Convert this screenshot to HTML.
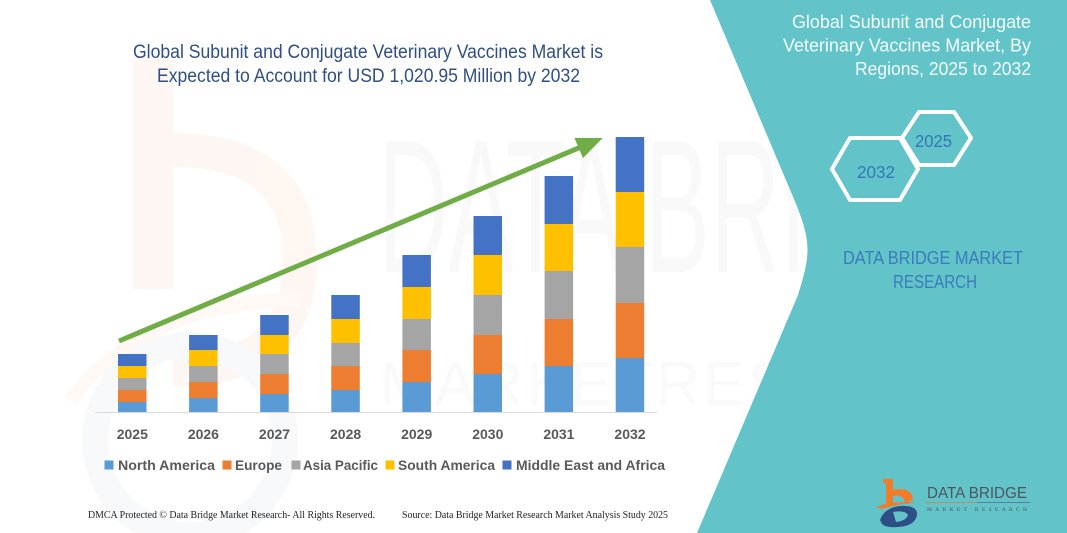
<!DOCTYPE html>
<html>
<head>
<meta charset="utf-8">
<style>
html,body{margin:0;padding:0;background:#fff;}
svg{display:block;}
text{font-family:"Liberation Sans",sans-serif;}
</style>
</head>
<body>
<svg width="1067" height="533" viewBox="0 0 1067 533" xmlns="http://www.w3.org/2000/svg">
<rect x="0" y="0" width="1067" height="533" fill="#ffffff"/>

<!-- faint watermarks -->
<g opacity="0.4">
  <rect x="133" y="57" width="40" height="232" fill="#fcebdf"/>
  <path d="M173 150 Q300 150 300 260 Q300 370 173 370" fill="none" stroke="#fcebdf" stroke-width="34"/>
  <path d="M70 400 Q150 300 300 300" fill="none" stroke="#fdf1e8" stroke-width="14"/>
  <circle cx="190" cy="440" r="95" fill="none" stroke="#eef1f5" stroke-width="26"/>
</g>
<text x="378" y="272" font-size="190" fill="#f9f9f9" textLength="640" lengthAdjust="spacingAndGlyphs">DATA BRIDGE</text>
<text x="380" y="405" font-size="62" fill="#fafafa" textLength="640" lengthAdjust="spacing">MARKETRESEARCH</text>

<!-- teal panel -->
<path d="M710 0 L788 185 C812 240 812 250 798 295 L697 533 L1067 533 L1067 0 Z" fill="#62c3c8"/>

<!-- left title -->
<text x="133" y="58" font-size="19" fill="#2f4f82" textLength="470" lengthAdjust="spacingAndGlyphs">Global Subunit and Conjugate Veterinary Vaccines Market is</text>
<text x="157" y="82" font-size="19" fill="#2f4f82" textLength="423" lengthAdjust="spacingAndGlyphs">Expected to Account for USD 1,020.95 Million by 2032</text>

<!-- axis -->
<line x1="95" y1="412.5" x2="657" y2="412.5" stroke="#d9d9d9" stroke-width="1"/>

<!-- bars -->
<g>
  <!-- 2025 -->
  <rect x="118" y="402" width="28.5" height="10" fill="#5b9bd5"/>
  <rect x="118" y="390" width="28.5" height="12" fill="#ed7d31"/>
  <rect x="118" y="378" width="28.5" height="12" fill="#a5a5a5"/>
  <rect x="118" y="366" width="28.5" height="12" fill="#ffc000"/>
  <rect x="118" y="354" width="28.5" height="12" fill="#4472c4"/>
  <!-- 2026 -->
  <rect x="189.1" y="398" width="28.5" height="14" fill="#5b9bd5"/>
  <rect x="189.1" y="382" width="28.5" height="16" fill="#ed7d31"/>
  <rect x="189.1" y="366" width="28.5" height="16" fill="#a5a5a5"/>
  <rect x="189.1" y="350" width="28.5" height="16" fill="#ffc000"/>
  <rect x="189.1" y="335" width="28.5" height="15" fill="#4472c4"/>
  <!-- 2027 -->
  <rect x="260.2" y="394" width="28.5" height="18" fill="#5b9bd5"/>
  <rect x="260.2" y="374" width="28.5" height="20" fill="#ed7d31"/>
  <rect x="260.2" y="354" width="28.5" height="20" fill="#a5a5a5"/>
  <rect x="260.2" y="335" width="28.5" height="19" fill="#ffc000"/>
  <rect x="260.2" y="315" width="28.5" height="20" fill="#4472c4"/>
  <!-- 2028 -->
  <rect x="331.3" y="390" width="28.5" height="22" fill="#5b9bd5"/>
  <rect x="331.3" y="366" width="28.5" height="24" fill="#ed7d31"/>
  <rect x="331.3" y="343" width="28.5" height="23" fill="#a5a5a5"/>
  <rect x="331.3" y="319" width="28.5" height="24" fill="#ffc000"/>
  <rect x="331.3" y="295" width="28.5" height="24" fill="#4472c4"/>
  <!-- 2029 -->
  <rect x="402.4" y="382" width="28.5" height="30" fill="#5b9bd5"/>
  <rect x="402.4" y="350" width="28.5" height="32" fill="#ed7d31"/>
  <rect x="402.4" y="319" width="28.5" height="31" fill="#a5a5a5"/>
  <rect x="402.4" y="287" width="28.5" height="32" fill="#ffc000"/>
  <rect x="402.4" y="255" width="28.5" height="32" fill="#4472c4"/>
  <!-- 2030 -->
  <rect x="473.5" y="374" width="28.5" height="38" fill="#5b9bd5"/>
  <rect x="473.5" y="335" width="28.5" height="39" fill="#ed7d31"/>
  <rect x="473.5" y="295" width="28.5" height="40" fill="#a5a5a5"/>
  <rect x="473.5" y="255" width="28.5" height="40" fill="#ffc000"/>
  <rect x="473.5" y="216" width="28.5" height="39" fill="#4472c4"/>
  <!-- 2031 -->
  <rect x="544.6" y="366" width="28.5" height="46" fill="#5b9bd5"/>
  <rect x="544.6" y="319" width="28.5" height="47" fill="#ed7d31"/>
  <rect x="544.6" y="271" width="28.5" height="48" fill="#a5a5a5"/>
  <rect x="544.6" y="224" width="28.5" height="47" fill="#ffc000"/>
  <rect x="544.6" y="176" width="28.5" height="48" fill="#4472c4"/>
  <!-- 2032 -->
  <rect x="615.7" y="358" width="28.5" height="54" fill="#5b9bd5"/>
  <rect x="615.7" y="303" width="28.5" height="55" fill="#ed7d31"/>
  <rect x="615.7" y="247" width="28.5" height="56" fill="#a5a5a5"/>
  <rect x="615.7" y="192" width="28.5" height="55" fill="#ffc000"/>
  <rect x="615.7" y="137" width="28.5" height="55" fill="#4472c4"/>
</g>

<!-- green arrow -->
<line x1="119" y1="341" x2="580.5" y2="147.2" stroke="#70ad47" stroke-width="5"/>
<polygon points="602.7,138 583,158.1 574.4,137.9" fill="#70ad47"/>

<!-- year labels -->
<g font-size="14" font-weight="bold" fill="#595959" text-anchor="middle">
  <text x="132.3" y="439">2025</text>
  <text x="203.4" y="439">2026</text>
  <text x="274.5" y="439">2027</text>
  <text x="345.6" y="439">2028</text>
  <text x="416.7" y="439">2029</text>
  <text x="487.8" y="439">2030</text>
  <text x="558.9" y="439">2031</text>
  <text x="630" y="439">2032</text>
</g>

<!-- legend -->
<g font-size="14" font-weight="bold" fill="#595959">
  <rect x="104.5" y="460.5" width="9" height="9" fill="#5b9bd5"/>
  <text x="118" y="470" textLength="97" lengthAdjust="spacingAndGlyphs">North America</text>
  <rect x="222.5" y="460.5" width="9" height="9" fill="#ed7d31"/>
  <text x="235" y="470" textLength="47" lengthAdjust="spacingAndGlyphs">Europe</text>
  <rect x="291.5" y="460.5" width="9" height="9" fill="#a5a5a5"/>
  <text x="303" y="470" textLength="75" lengthAdjust="spacingAndGlyphs">Asia Pacific</text>
  <rect x="385.5" y="460.5" width="9" height="9" fill="#ffc000"/>
  <text x="398" y="470" textLength="97" lengthAdjust="spacingAndGlyphs">South America</text>
  <rect x="502.5" y="460.5" width="9" height="9" fill="#4472c4"/>
  <text x="516" y="470" textLength="149" lengthAdjust="spacingAndGlyphs">Middle East and Africa</text>
</g>

<!-- footer -->
<g font-size="10" fill="#222">
  <text x="88" y="518" textLength="287" lengthAdjust="spacingAndGlyphs" style="font-family:'Liberation Serif',serif">DMCA Protected © Data Bridge Market Research-  All Rights Reserved.</text>
  <text x="402" y="518" textLength="266" lengthAdjust="spacingAndGlyphs" style="font-family:'Liberation Serif',serif">Source: Data Bridge Market Research  Market Analysis Study 2025</text>
</g>

<!-- right panel title -->
<g font-size="18" fill="#f4fbfb">
  <text x="792" y="28" textLength="239" lengthAdjust="spacingAndGlyphs">Global Subunit and Conjugate</text>
  <text x="783" y="51.5" textLength="248" lengthAdjust="spacingAndGlyphs">Veterinary Vaccines Market, By</text>
  <text x="855" y="75" textLength="176" lengthAdjust="spacingAndGlyphs">Regions, 2025 to 2032</text>
</g>

<!-- hexagons -->
<polygon points="832,169 850,138 900,138 918,169 900,200 850,200" fill="none" stroke="#ffffff" stroke-width="4" stroke-linejoin="round"/>
<polygon points="902,138 919,112 954,112 971,138 954,165 919,165" fill="none" stroke="#ffffff" stroke-width="4" stroke-linejoin="round"/>
<text x="857" y="178" font-size="17.5" fill="#3378b8" textLength="38" lengthAdjust="spacingAndGlyphs">2032</text>
<text x="915" y="147" font-size="17.5" fill="#3378b8" textLength="37" lengthAdjust="spacingAndGlyphs">2025</text>

<!-- DATA BRIDGE MARKET RESEARCH -->
<text x="843" y="264" font-size="18" fill="#3a7cbc" textLength="180" lengthAdjust="spacingAndGlyphs">DATA BRIDGE MARKET</text>
<text x="893" y="288" font-size="18" fill="#3a7cbc" textLength="84" lengthAdjust="spacingAndGlyphs">RESEARCH</text>

<!-- bottom-right logo -->
<g>
  <path d="M883 479 L893 479 L893 490 Q912 486 913 500 L905 503 Q904 494 893 496 L893 504 L886 504 L886 483 L883 483 Z" fill="#f07c2a"/>
  <path d="M876 507 Q895 500 918 503 Q900 503 882 509 Z" fill="#f07c2a"/>
  <path d="M880 520 Q884 508 900 506 Q918 505 917 515 Q915 526 898 527 Q886 528 882 524 Z" fill="#2d4f86"/>
  <path d="M893 512 Q905 510 908 515 Q906 521 896 522 Z" fill="#62c3c8"/>
  <text x="927" y="498" font-size="16" fill="#4d5560" textLength="100" lengthAdjust="spacingAndGlyphs">DATA BRIDGE</text>
  <line x1="925" y1="502.5" x2="977" y2="502.5" stroke="#c98a5a" stroke-width="1"/>
  <line x1="977" y1="502.5" x2="1030" y2="502.5" stroke="#5a7fa6" stroke-width="1"/>
  <text x="927" y="511" font-size="5.5" fill="#4d5560" textLength="100" lengthAdjust="spacing" style="font-family:'Liberation Serif',serif">MARKET  RESEARCH</text>
</g>
</svg>
</body>
</html>
